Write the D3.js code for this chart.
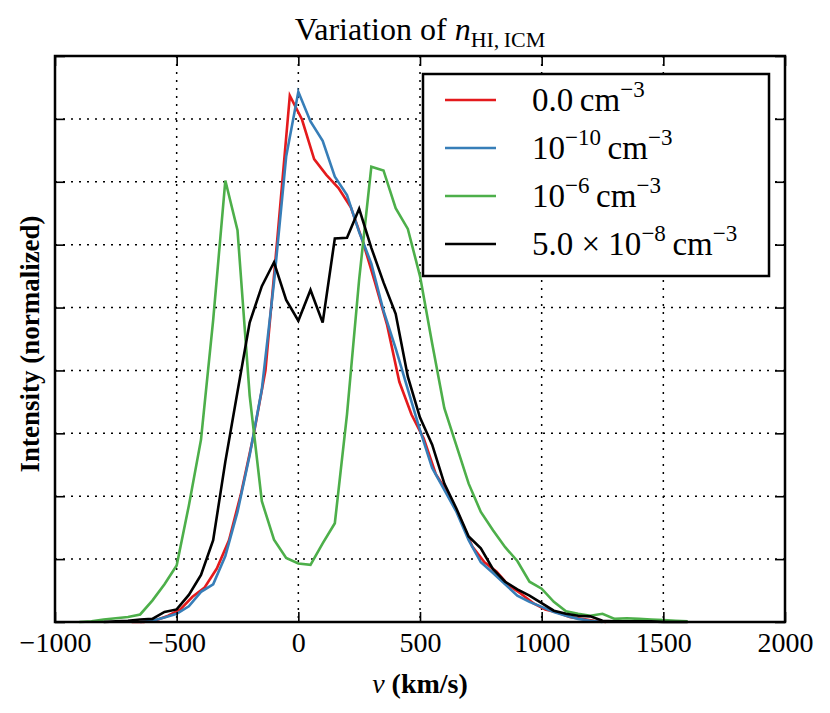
<!DOCTYPE html>
<html>
<head>
<meta charset="utf-8">
<script src="https://cdn.jsdelivr.net/npm/d3@7"></script>
<style>
  body { margin: 0; background: white; }
  text { font-family: "Liberation Serif", "DejaVu Serif", serif; fill: black; }
</style>
</head>
<body>
<div id="vizContainer"></div>
<script>
let w = 830;
let h = 713;
let margin = {left: 55, right: 45, top: 56, bottom: 91};

// velocities (km/s) and normalized intensity
let vRed = [-685,-635,-585,-535,-485,-435,-385,-335,-285,-235,-185,-135,-85,-35,15,65,115,165,215,265,315,365,415,465,515,565,615,665,715,765,815,865,915,965,1015,1065,1115,1165,1215,1265];
let iRed = [0,0,0.03,0.1,0.2,0.4,0.55,0.85,1.3,2.05,2.95,4.0,6.15,8.37,7.99,7.36,7.11,6.9,6.6,6.05,5.4,4.72,3.82,3.3,2.92,2.35,2.05,1.65,1.2,0.95,0.8,0.58,0.45,0.3,0.2,0.15,0.08,0.05,0.02,0];

let vBlue = [-650,-600,-550,-500,-450,-400,-350,-300,-250,-200,-150,-100,-50,0,50,100,150,200,250,300,350,400,450,500,550,600,650,700,750,800,850,900,950,1000,1050,1100,1150,1200,1250];
let iBlue = [0,0.02,0.07,0.13,0.25,0.48,0.6,1.05,1.75,2.65,3.7,5.4,7.4,8.43,7.96,7.65,7.08,6.79,6.2,5.7,4.95,4.35,3.7,3.05,2.45,2.1,1.75,1.3,0.95,0.78,0.6,0.42,0.32,0.24,0.16,0.1,0.05,0.02,0];

let vGreen = [-900,-850,-800,-750,-700,-650,-600,-550,-500,-450,-400,-350,-300,-250,-200,-150,-100,-50,0,50,100,150,200,250,300,350,400,450,500,550,600,650,700,750,800,850,900,950,1000,1050,1100,1150,1200,1250,1300,1350,1400,1450,1500,1550,1600];
let iGreen = [0,0.01,0.04,0.06,0.08,0.12,0.34,0.6,0.9,1.85,2.9,4.8,7.02,6.23,3.6,1.92,1.31,1.02,0.93,0.91,1.25,1.57,3.3,5.45,7.24,7.18,6.58,6.25,5.5,4.43,3.4,2.8,2.2,1.75,1.46,1.19,0.97,0.64,0.53,0.32,0.17,0.13,0.1,0.13,0.05,0.06,0.05,0.04,0.03,0.02,0.01];

let vBlack = [-800,-750,-700,-650,-600,-550,-500,-450,-400,-350,-300,-250,-200,-150,-100,-50,0,50,100,150,200,250,300,350,400,450,500,550,600,650,700,750,800,850,900,950,1000,1050,1100,1150,1200,1250,1300,1350,1400,1450,1500,1550,1600];
let iBlack = [0,0.01,0.02,0.04,0.05,0.16,0.2,0.43,0.75,1.3,2.55,3.66,4.76,5.34,5.72,5.12,4.79,5.28,4.76,6.1,6.11,6.57,5.95,5.4,4.9,3.9,3.25,2.82,2.2,1.8,1.36,1.17,0.84,0.64,0.52,0.42,0.3,0.18,0.13,0.1,0.09,0.02,0.01,0.01,0.01,0.01,0,0,0];

let labels = ["0.0", "10", "10", "5.0 \u00d7 10"];
let exps = ["", "\u221210", "\u22126", "\u22128"];
let colors = ["#e41a1c", "#377eb8", "#4daf4a", "#000000"];

let xTicks = [-1000, -500, 0, 500, 1000, 1500, 2000];
let yTicks = [0, 1, 2, 3, 4, 5, 6, 7, 8, 9];

let series = [
  d3.zip(vRed, iRed),
  d3.zip(vBlue, iBlue),
  d3.zip(vGreen, iGreen),
  d3.zip(vBlack, iBlack)
];

let viz = d3.select("#vizContainer").append("svg")
    .attr("width", w)
    .attr("height", h)
    .style("background-color", "white")
;

let xScale = d3.scaleLinear().domain([-1000, 2000]).range([margin.left, w - margin.right]);
let yScale = d3.scaleLinear().domain([0, 9]).range([h - margin.bottom, margin.top]);

let plotW = w - margin.left - margin.right;
let plotH = h - margin.top - margin.bottom;

// grid
let grid = viz.append("g").attr("class", "grid");
grid.selectAll(".vgrid").data(xTicks).enter().append("line")
    .attr("x1", d => xScale(d)).attr("x2", d => xScale(d))
    .attr("y1", margin.top).attr("y2", h - margin.bottom)
    .attr("stroke", "black").attr("stroke-width", 1.5)
    .attr("stroke-dasharray", "2,6");
grid.selectAll(".hgrid").data(yTicks).enter().append("line")
    .attr("y1", d => yScale(d)).attr("y2", d => yScale(d))
    .attr("x1", margin.left).attr("x2", w - margin.right)
    .attr("stroke", "black").attr("stroke-width", 1.5)
    .attr("stroke-dasharray", "2,6");

// lines
let line = d3.line().x(d => xScale(d[0])).y(d => yScale(d[1]));
viz.append("g").selectAll("path").data(series).enter().append("path")
    .attr("d", line)
    .attr("fill", "none")
    .attr("stroke", (d, i) => colors[i])
    .attr("stroke-width", 2.6)
    .attr("stroke-linejoin", "miter");

// axes with inward ticks
let xAxisBottom = d3.axisBottom(xScale).tickValues(xTicks).tickSize(-10).tickPadding(10)
    .tickFormat(d => d < 0 ? "\u2212" + Math.abs(d) : d);
let gxb = viz.append("g")
    .attr("transform", "translate(0," + (h - margin.bottom) + ")")
    .call(xAxisBottom);
let gxt = viz.append("g")
    .attr("transform", "translate(0," + margin.top + ")")
    .call(d3.axisTop(xScale).tickValues(xTicks).tickSize(-10).tickFormat(""));
let gyl = viz.append("g")
    .attr("transform", "translate(" + margin.left + ",0)")
    .call(d3.axisLeft(yScale).tickValues(yTicks).tickSize(-10).tickFormat(""));
let gyr = viz.append("g")
    .attr("transform", "translate(" + (w - margin.right) + ",0)")
    .call(d3.axisRight(yScale).tickValues(yTicks).tickSize(-10).tickFormat(""));
[gxb, gxt, gyl, gyr].forEach(g => {
  g.select(".domain").remove();
  g.selectAll("line").attr("stroke", "black").attr("stroke-width", 1.6);
});
gxb.selectAll("text")
    .style("font-family", "Liberation Serif")
    .style("font-size", "28px")
    .attr("fill", "black");

// frame
viz.append("rect")
    .attr("x", margin.left).attr("y", margin.top)
    .attr("width", plotW).attr("height", plotH)
    .attr("fill", "none").attr("stroke", "black").attr("stroke-width", 2.5);

// title
let title = viz.append("text")
    .attr("x", xScale(500)).attr("y", 40)
    .attr("text-anchor", "middle")
    .style("font-size", "32px");
title.append("tspan").text("Variation of ");
title.append("tspan").text("n").style("font-style", "italic");
title.append("tspan").text("HI,\u2009ICM").attr("dy", 7).style("font-size", "22px");

// axis labels
let xl = viz.append("text")
    .attr("x", xScale(500)).attr("y", 693)
    .attr("text-anchor", "middle")
    .style("font-size", "28px");
xl.append("tspan").text("v").style("font-style", "italic");
xl.append("tspan").text(" (km/s)").style("font-weight", "bold");

viz.append("text")
    .attr("transform", "translate(39," + (margin.top + plotH / 2 + 5) + ") rotate(-90)")
    .attr("text-anchor", "middle")
    .style("font-size", "27px")
    .style("font-weight", "bold")
    .text("Intensity (normalized)");

// legend
let legend = viz.append("g").attr("class", "legend");
legend.append("rect")
    .attr("x", 423).attr("y", 74)
    .attr("width", 346).attr("height", 202)
    .attr("fill", "white").attr("stroke", "black").attr("stroke-width", 2.5);
let rows = legend.selectAll(".row").data(labels).enter().append("g")
    .attr("transform", (d, i) => "translate(0," + (100 + i * 48) + ")");
rows.append("line")
    .attr("x1", 445).attr("x2", 496)
    .attr("stroke", (d, i) => colors[i]).attr("stroke-width", 2.6);
let lt = rows.append("text")
    .attr("x", 532).attr("y", 11)
    .style("font-size", "33px");
lt.each(function(d, i){
  let t = d3.select(this);
  t.append("tspan").text(d);
  if(exps[i] != ""){
    t.append("tspan").text(exps[i]).attr("dy", -14).style("font-size", "23px");
    t.append("tspan").text("\u2009cm").attr("dy", 14);
  } else {
    t.append("tspan").text("\u2009cm");
  }
  t.append("tspan").text("\u22123").attr("dy", -14).style("font-size", "23px");
});
</script>
</body>
</html>
